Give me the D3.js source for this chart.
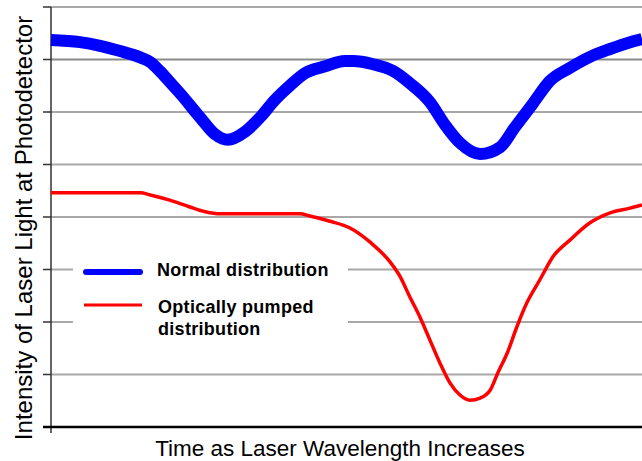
<!DOCTYPE html>
<html>
<head>
<meta charset="utf-8">
<script src="https://cdn.jsdelivr.net/npm/d3@7"></script>
<style>
  html, body { margin: 0; padding: 0; background: #fff; }
  svg { display: block; font-family: "Liberation Sans", Arial, sans-serif; }
</style>
</head>
<body>
<svg id="chart" width="642" height="461"></svg>
<script>
// Scan time (0-100, arbitrary units) and detected intensity (gridline units)
const normalTime = [0, 4.9, 8.3, 11.7, 15.1, 16.8, 18.4, 20.1, 21.8, 25.2, 27.7, 29.9, 32.8, 35.4, 37.9, 40.4, 43.0, 46.4, 49.7, 51.1, 54.5, 57.9, 60.7, 64.1, 66.7, 69.2, 72.6, 76.0, 78.5, 81.6, 84.4, 87.8, 91.2, 94.6, 98.0, 100];
const normalIntensity = [7.37, 7.33, 7.26, 7.16, 7.04, 6.95, 6.78, 6.57, 6.36, 5.90, 5.58, 5.47, 5.62, 5.90, 6.23, 6.50, 6.74, 6.87, 6.97, 6.97, 6.91, 6.78, 6.55, 6.19, 5.75, 5.41, 5.20, 5.33, 5.71, 6.17, 6.59, 6.84, 7.05, 7.20, 7.33, 7.39];

const pumpedTime = [0, 8.3, 15.1, 16.8, 20.1, 23.5, 26.1, 28.6, 35.4, 42.1, 43.8, 47.2, 50.6, 54.0, 57.4, 59.1, 60.7, 62.4, 64.1, 65.8, 67.5, 69.2, 70.9, 72.6, 74.3, 75.6, 77.2, 78.8, 80.5, 82.7, 84.9, 87.8, 91.2, 94.6, 98.0, 100];
const pumpedIntensity = [4.46, 4.46, 4.46, 4.42, 4.32, 4.19, 4.10, 4.06, 4.06, 4.06, 4.02, 3.92, 3.79, 3.52, 3.14, 2.86, 2.48, 2.10, 1.66, 1.22, 0.84, 0.61, 0.51, 0.55, 0.70, 1.03, 1.41, 1.90, 2.36, 2.80, 3.24, 3.56, 3.89, 4.08, 4.17, 4.23];

const gridLevels = [0, 1, 2, 3, 4, 5, 6, 7, 8];

const seriesNames = ["Normal distribution", "Optically pumped distribution"];
const xTitle = "Time as Laser Wavelength Increases";
const yTitle = "Intensity of Laser Light at Photodetector";

const svg = d3.select("#chart");
const x = d3.scaleLinear().domain([0, 100]).range([51, 642]);
const y = d3.scaleLinear().domain([0, 8]).range([427, 7]);

// Horizontal gridlines with small ticks left of the axis
const grid = svg.append("g");
grid.selectAll("line.grid")
  .data(gridLevels.filter(d => d > 0))
  .join("line")
  .attr("x1", x(0)).attr("x2", 642)
  .attr("y1", d => y(d)).attr("y2", d => y(d))
  .attr("stroke", d => d === 7 ? "#8a8a8a" : "#a8a8a8")
  .attr("stroke-width", 2);
grid.selectAll("line.tick")
  .data(gridLevels)
  .join("line")
  .attr("x1", x(0) - 8).attr("x2", x(0))
  .attr("y1", d => y(d)).attr("y2", d => y(d))
  .attr("stroke", "#333").attr("stroke-width", 1.5);

// Axes
svg.append("line")
  .attr("x1", x(0)).attr("x2", x(0))
  .attr("y1", y(8)).attr("y2", y(0) + 6)
  .attr("stroke", "#333").attr("stroke-width", 1.5);
svg.append("line")
  .attr("x1", x(0) - 8).attr("x2", 642)
  .attr("y1", y(0)).attr("y2", y(0))
  .attr("stroke", "#000").attr("stroke-width", 2.5);

const line = d3.line().curve(d3.curveMonotoneX);

const plot = svg.append("g");
plot.append("path")
  .attr("d", line(pumpedTime.map((t, i) => [x(t), y(pumpedIntensity[i])])))
  .attr("fill", "none").attr("stroke", "#ff0000").attr("stroke-width", 3.5);

plot.append("path")
  .attr("d", line(normalTime.map((t, i) => [x(t), y(normalIntensity[i])])))
  .attr("fill", "none").attr("stroke", "#0000ff").attr("stroke-width", 12);

// Legend on a white panel covering the gridlines
const legend = svg.append("g");
legend.append("rect")
  .attr("x", 73).attr("y", 250).attr("width", 275).attr("height", 95)
  .attr("fill", "#fff");
legend.append("line")
  .attr("x1", 86).attr("x2", 140).attr("y1", 272).attr("y2", 272)
  .attr("stroke", "#0000ff").attr("stroke-width", 6).attr("stroke-linecap", "round");
legend.append("line")
  .attr("x1", 84).attr("x2", 142).attr("y1", 305).attr("y2", 305)
  .attr("stroke", "#ff0000").attr("stroke-width", 3);
legend.append("text")
  .attr("x", 157).attr("y", 276)
  .attr("font-size", 18).attr("font-weight", "bold").attr("letter-spacing", 0.3)
  .text(seriesNames[0]);
const lt = legend.append("text")
  .attr("x", 158).attr("y", 313)
  .attr("font-size", 18).attr("font-weight", "bold").attr("letter-spacing", 0.3);
lt.append("tspan").attr("x", 158).text("Optically pumped");
lt.append("tspan").attr("x", 158).attr("dy", 22).text("distribution");

// Axis titles
svg.append("text")
  .attr("x", 340).attr("y", 456)
  .attr("text-anchor", "middle").attr("font-size", 22.5)
  .text(xTitle);
svg.append("text")
  .attr("transform", "translate(32,228) rotate(-90)")
  .attr("text-anchor", "middle").attr("font-size", 24)
  .text(yTitle);
</script>
</body>
</html>
